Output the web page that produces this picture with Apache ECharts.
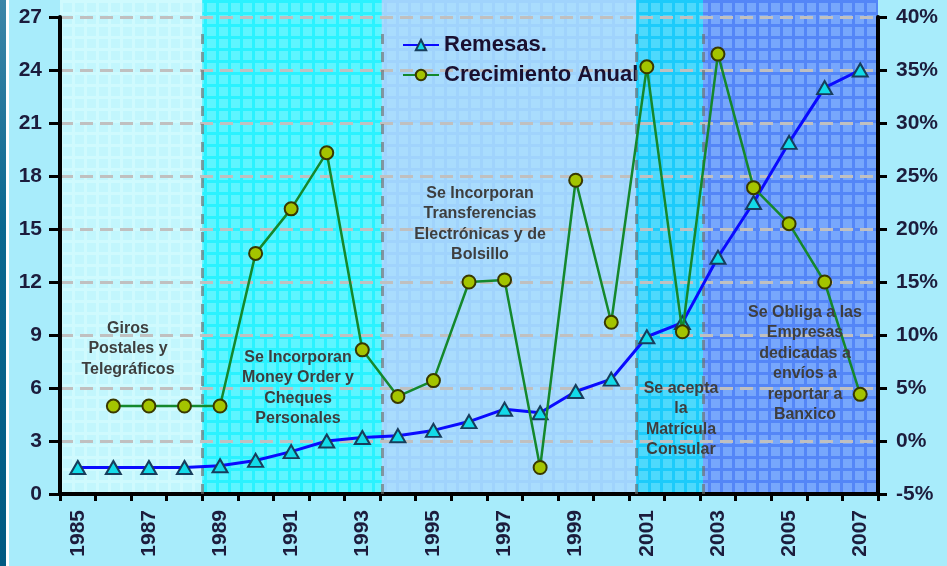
<!DOCTYPE html>
<html>
<head>
<meta charset="utf-8">
<script src="https://cdn.jsdelivr.net/npm/echarts@6/dist/echarts.min.js"></script>
<style>
html,body{margin:0;padding:0;background:#a8ecfb;}
#c{width:947px;height:566px;}
</style>
</head>
<body>
<div id="c"></div>
<script>
// ---- data ----
const years = ['1985','1986','1987','1988','1989','1990','1991','1992','1993','1994','1995','1996','1997','1998','1999','2000','2001','2002','2003','2004','2005','2006','2007'];
const remesas = [1.5,1.5,1.5,1.5,1.6,1.9,2.4,3.0,3.2,3.3,3.6,4.1,4.8,4.6,5.8,6.5,8.9,9.7,13.4,16.5,19.9,23.0,24.0];
const crecimiento = [null,3.3,3.3,3.3,3.3,17.7,21.9,27.2,8.6,4.2,5.7,15.0,15.2,-2.5,24.6,11.2,35.3,10.3,36.5,23.9,20.5,15.0,4.4];
const leftTicks = {min:0, max:27, interval:3};
const rightTicks = {min:-5, max:40, interval:5};
// period bands, in category index units (start, end)
const bandStarts = [0, 4, 9.05, 16.2, 18.08];
const bandEnds = [4, 9.05, 16.2, 18.08, 23];
const notes = [
  ['Giros','Postales y','Telegráficos'],
  ['Se Incorporan','Money Order y','Cheques','Personales'],
  ['Se Incorporan','Transferencias','Electrónicas y de','Bolsillo'],
  ['Se acepta','la','Matrícula','Consular'],
  ['Se Obliga a las','Empresas','dedicadas a','envíos a','reportar a','Banxico']
];

// ---- styles ----
function pattern(base, line, size, lw){
  const c = document.createElement('canvas');
  c.width = size; c.height = size;
  const g = c.getContext('2d');
  g.fillStyle = base; g.fillRect(0,0,size,size);
  g.fillStyle = line; g.fillRect(0,0,lw,size); g.fillRect(0,0,size,lw);
  return {image:c, repeat:'repeat'};
}
const bandFills = [
  pattern('#c2f6fd','#cffafe',12,3),
  pattern('#5ef5ff','#2af2ff',12,3),
  pattern('#a9dcfd','#a0d3fc',12,3),
  pattern('#4ed9fc','#1ccbfb',12,3),
  pattern('#77a7fc','#5486f7',12,3)
];
const notePos = [[128,318],[298,347],[480,183],[681,378],[805,302]];
const font = 'Liberation Sans, Arial, sans-serif';

const chart = echarts.init(document.getElementById('c'), null, {renderer:'canvas'});

const areaData = bandStarts.map((s,i)=>[{xAxis:s, itemStyle:{color:bandFills[i]}},{xAxis:bandEnds[i]}]);
const lineData = bandStarts.slice(1).map(s=>[{coord:[s,0]},{coord:[s,0.943]}]);

const graphics = [
  {type:'rect', left:0, top:0, shape:{width:6,height:566}, style:{fill:new echarts.graphic.LinearGradient(0,0,0,1,[{offset:0,color:'#3d86a8'},{offset:0.4,color:'#0a6890'},{offset:1,color:'#005a82'}])}, z:100},
  {type:'rect', left:6, top:0, shape:{width:3,height:566}, style:{fill:'#ffffff'}, z:100}
];
notes.forEach((lines,i)=>{
  graphics.push({
    type:'text', x:notePos[i][0], y:notePos[i][1], z:50,
    style:{text:lines.join('\n'), fill:'#3e3e3e', font:'bold 16px '+font, align:'center', verticalAlign:'top', lineHeight:20.5}
  });
});

chart.setOption({
  backgroundColor:'#a8ecfb',
  animation:false,
  grid:[
    {left:60, right:69, top:17, bottom:72},
    {left:60, right:69, top:0, bottom:72}
  ],
  legend:{
    data:['Remesas.','Crecimiento Anual'],
    orient:'vertical', left:397, top:29, itemGap:8,
    itemWidth:36, itemHeight:13,
    textStyle:{fontSize:22, fontWeight:'bold', color:'#1a1030', fontFamily:font}
  },
  xAxis:[
    {type:'category', data:years, gridIndex:0, boundaryGap:true, z:3,
     axisLine:{lineStyle:{color:'#000', width:4}},
     axisTick:{show:true, alignWithLabel:false, interval:0, length:7, lineStyle:{color:'#000', width:3}},
     axisLabel:{interval:1, rotate:90, margin:16, fontSize:21, fontWeight:'bold', color:'#1c1c3c', fontFamily:font},
     splitLine:{show:false}},
    {type:'value', gridIndex:1, min:0, max:23, show:false}
  ],
  yAxis:[
    {type:'value', gridIndex:0, min:leftTicks.min, max:leftTicks.max, interval:leftTicks.interval, z:3,
     axisLine:{show:true, lineStyle:{color:'#000', width:4}},
     axisTick:{show:true, length:11, lineStyle:{color:'#000', width:3}},
     axisLabel:{margin:18, fontSize:21, fontWeight:'bold', color:'#1c1c3c', fontFamily:font},
     splitLine:{show:true, lineStyle:{color:'#c0c0c0', width:3, type:[13,7]}}},
    {type:'value', gridIndex:0, position:'right', min:rightTicks.min, max:rightTicks.max, interval:rightTicks.interval, z:3,
     axisLine:{show:true, lineStyle:{color:'#000', width:4}},
     axisTick:{show:true, length:9, lineStyle:{color:'#000', width:3}},
     axisLabel:{margin:18, fontSize:21, fontWeight:'bold', color:'#1c1c3c', fontFamily:font, formatter:'{value}%'},
     splitLine:{show:false}},
    {type:'value', gridIndex:1, min:0, max:1, show:false}
  ],
  series:[
    {name:'bands', type:'line', xAxisIndex:1, yAxisIndex:2, data:[[0,0]], showSymbol:false, silent:true,
     lineStyle:{opacity:0}, z:0,
     markArea:{silent:true, data:areaData, label:{show:false}},
     markLine:{silent:true, symbol:'none', label:{show:false}, data:lineData,
       lineStyle:{color:'rgba(110,110,110,0.65)', width:3, type:[10,8]}}},
    {name:'Remesas.', type:'line', xAxisIndex:0, yAxisIndex:0, data:remesas, z:5,
     symbol:'triangle', symbolSize:[15,13],
     lineStyle:{color:'#0a0aff', width:3},
     itemStyle:{color:'#12dbe8', borderColor:'#173d5c', borderWidth:2}},
    {name:'Crecimiento Anual', type:'line', xAxisIndex:0, yAxisIndex:1, data:crecimiento, z:6,
     symbol:'circle', symbolSize:13, connectNulls:false,
     lineStyle:{color:'#14882c', width:2.5},
     itemStyle:{color:'#a4c400', borderColor:'#383800', borderWidth:2}}
  ],
  graphic:graphics
});
</script>
</body>
</html>
